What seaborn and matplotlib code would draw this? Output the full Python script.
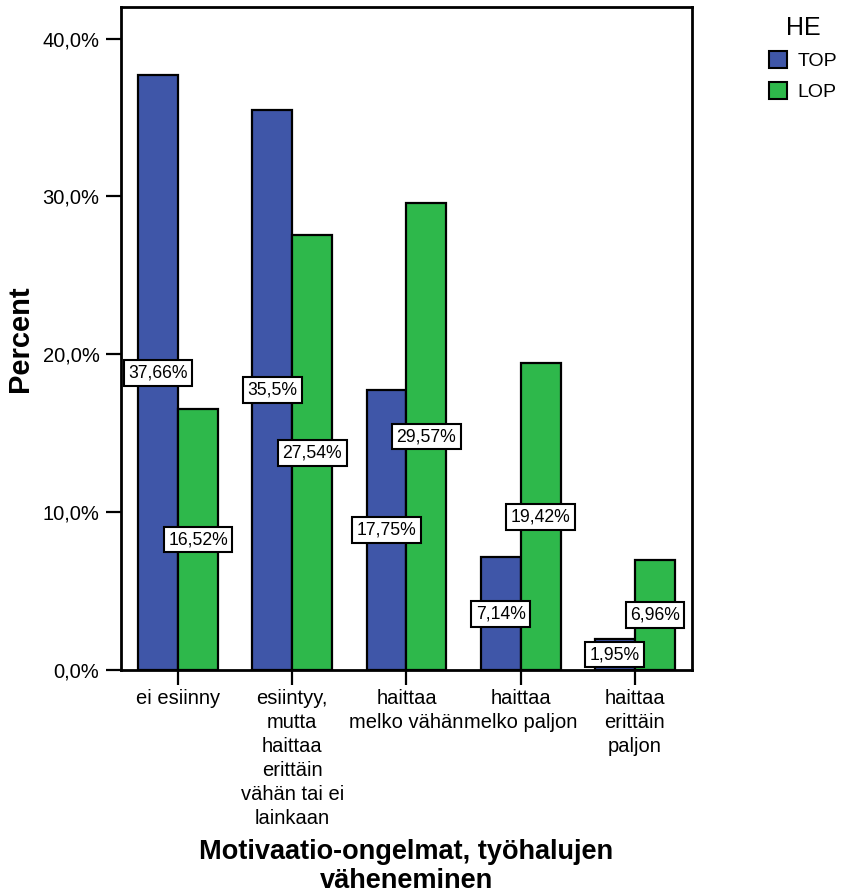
import matplotlib
matplotlib.use("Agg")
import matplotlib.pyplot as plt
import seaborn as sns
import pandas as pd

categories = [
    "ei esiinny",
    "esiintyy,\nmutta\nhaittaa\nerittäin\nvähän tai ei\nlainkaan",
    "haittaa\nmelko vähän",
    "haittaa\nmelko paljon",
    "haittaa\nerittäin\npaljon",
]
groups = ["TOP", "LOP"]
top_values = [37.66, 35.5, 17.75, 7.14, 1.95]
lop_values = [16.52, 27.54, 29.57, 19.42, 6.96]
y_ticks = [0, 10, 20, 30, 40]
palette = {"TOP": "#3F56A8", "LOP": "#2EB84B"}

df = pd.DataFrame({
    "category": categories * 2,
    "HE": ["TOP"] * len(categories) + ["LOP"] * len(categories),
    "value": top_values + lop_values,
})

sns.set_style("white")
plt.rcParams["font.family"] = ["Liberation Sans", "DejaVu Sans"]
for key in ["text.color", "axes.labelcolor", "xtick.color", "ytick.color"]:
    plt.rcParams[key] = "black"

fig = plt.figure(figsize=(8.41, 8.94), dpi=100)
ax = fig.add_axes([0.1439, 0.2506, 0.6789, 0.7416])

sns.barplot(data=df, x="category", y="value", hue="HE", hue_order=groups,
            order=categories, palette=palette, width=0.7, saturation=1,
            edgecolor="black", linewidth=1.6, errorbar=None, ax=ax)

def fmt(v):
    return f"{v:g}".replace(".", ",") + "%"

for cont, vals in zip(ax.containers, [top_values, lop_values]):
    ax.bar_label(cont, labels=[fmt(v) for v in vals], label_type="center",
                 fontsize=12.7, color="black",
                 bbox=dict(boxstyle="square,pad=0.25", facecolor="white",
                           edgecolor="black", linewidth=1.5))

ax.set_ylim(0, 42)
ax.set_xlim(-0.5, 4.5)
ax.set_yticks(y_ticks)
ax.set_yticklabels([f"{t:.1f}".replace(".", ",") + "%" for t in y_ticks], fontsize=14.5)
ax.set_xticklabels(categories, fontsize=14.5, linespacing=1.33)
ax.tick_params(axis="both", which="both", direction="out", length=10.5, width=1.6,
               color="black", left=True, bottom=True)
ax.tick_params(axis="y", pad=5)
ax.tick_params(axis="x", pad=3.5)
for s in ax.spines.values():
    s.set_linewidth(2)
    s.set_color("black")

ax.set_ylabel("Percent", fontsize=21, fontweight="bold", labelpad=6)
ax.set_xlabel("Motivaatio-ongelmat, työhalujen\nväheneminen", fontsize=19.5,
              fontweight="bold", labelpad=8, linespacing=1.15)

handles, labels = ax.get_legend_handles_labels()
leg = ax.legend(handles, labels, title="HE", loc="upper left",
                bbox_to_anchor=(0.894, 1.002), bbox_transform=fig.transFigure,
                frameon=False, fontsize=14, title_fontsize=18,
                handlelength=0.93, handleheight=0.93, handletextpad=0.5,
                labelspacing=0.6)
for h in leg.legend_handles:
    h.set_edgecolor("black")
    h.set_linewidth(1.5)

fig.savefig("out.png", dpi=100, facecolor="white")
